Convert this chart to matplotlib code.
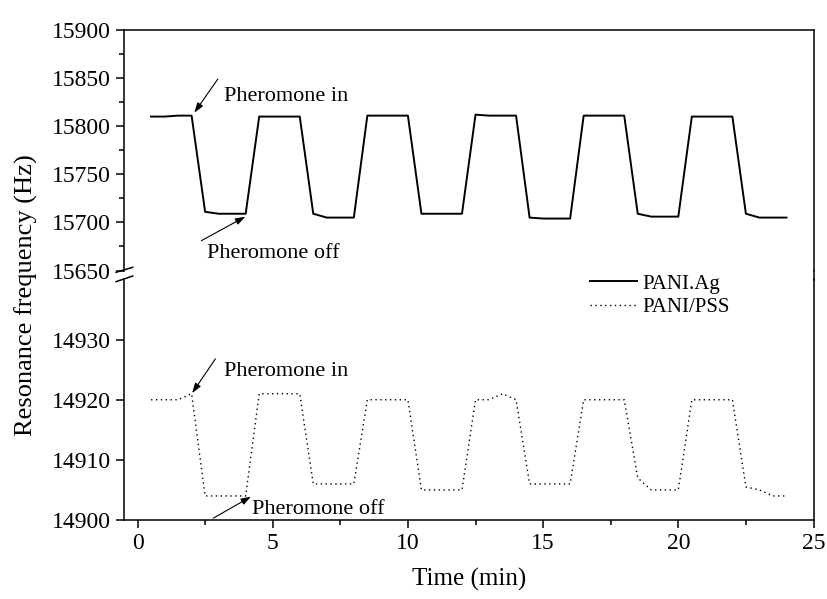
import matplotlib
matplotlib.use('Agg')
import matplotlib.pyplot as plt
from matplotlib.lines import Line2D
from matplotlib.ticker import MultipleLocator

plt.rcParams['font.family'] = ['Liberation Serif', 'DejaVu Serif']

# sampling times (min), one reading every 30 s
time = [0.5, 1.0, 1.5, 2.0, 2.5, 3.0, 3.5, 4.0, 4.5, 5.0, 5.5, 6.0,
        6.5, 7.0, 7.5, 8.0, 8.5, 9.0, 9.5, 10.0, 10.5, 11.0, 11.5, 12.0,
        12.5, 13.0, 13.5, 14.0, 14.5, 15.0, 15.5, 16.0, 16.5, 17.0, 17.5, 18.0,
        18.5, 19.0, 19.5, 20.0, 20.5, 21.0, 21.5, 22.0, 22.5, 23.0, 23.5, 24.0]

# resonance frequency (Hz) of the PANI.Ag sensor
pani_ag = [15810, 15810, 15811, 15811, 15711, 15709, 15709, 15709, 15810, 15810, 15810, 15810,
           15709, 15705, 15705, 15705, 15811, 15811, 15811, 15811, 15709, 15709, 15709, 15709,
           15812, 15811, 15811, 15811, 15705, 15704, 15704, 15704, 15811, 15811, 15811, 15811,
           15709, 15706, 15706, 15706, 15810, 15810, 15810, 15810, 15709, 15705, 15705, 15705]

# resonance frequency (Hz) of the PANI/PSS sensor
pani_pss = [14920, 14920, 14920, 14921, 14904, 14904, 14904, 14904, 14921, 14921, 14921, 14921,
            14906, 14906, 14906, 14906, 14920, 14920, 14920, 14920, 14905, 14905, 14905, 14905,
            14920, 14920, 14921, 14920, 14906, 14906, 14906, 14906, 14920, 14920, 14920, 14920,
            14907, 14905, 14905, 14905, 14920, 14920, 14920, 14920, 14905.5, 14905, 14904, 14904]

top_ticks = [15650, 15700, 15750, 15800, 15850, 15900]
bottom_ticks = [14900, 14910, 14920, 14930]
time_ticks = [0, 5, 10, 15, 20, 25]

W, H = 827, 599
fig = plt.figure(figsize=(W / 100, H / 100), dpi=100)


def box(left, top, right, bottom):
    # pixel box -> figure fraction rectangle
    return [left / W, 1 - bottom / H, (right - left) / W, (bottom - top) / H]


x_left, x_right = 124, 813.5
ax_top = fig.add_axes(box(x_left, 30, x_right, 270.5))
ax_bot = fig.add_axes(box(x_left, 279.5, x_right, 520))

lw_axis = 1.1
for ax in (ax_top, ax_bot):
    for s in ax.spines.values():
        s.set_linewidth(lw_axis)
    ax.set_xlim(-0.5, 25)
    ax.tick_params(axis='both', which='major', direction='out', length=6,
                   width=lw_axis, labelsize=17, pad=3.5)
    ax.tick_params(axis='both', which='minor', direction='out', length=3.5,
                   width=lw_axis)
    ax.tick_params(axis='y', right=False, which='both')
    ax.tick_params(axis='x', top=False, which='both')

# upper part: PANI.Ag
ax_top.plot(time, pani_ag, color='black', lw=1.4, label='PANI.Ag')
ax_top.set_ylim(15650, 15900)
ax_top.set_yticks(top_ticks)
ax_top.yaxis.set_minor_locator(MultipleLocator(25))
ax_top.spines['bottom'].set_visible(False)
ax_top.tick_params(axis='x', which='both', bottom=False, labelbottom=False)

# lower part: PANI/PSS
ax_bot.plot(time, pani_pss, color='black', lw=1.0, linestyle=(0, (1, 2.5)), label='PANI/PSS')
ax_bot.set_ylim(14900, 14940)
ax_bot.set_yticks(bottom_ticks)
ax_bot.set_xticks(time_ticks)
ax_bot.xaxis.set_minor_locator(MultipleLocator(2.5))
ax_bot.spines['top'].set_visible(False)

ax_bot.set_xlabel('Time (min)', fontsize=18, labelpad=10)
fig.text(26 / W, 1 - 295 / H, 'Resonance frequency (Hz)', rotation=90,
         fontsize=19, ha='center', va='center')

# legend with both series
handles = [Line2D([], [], color='black', lw=1.4),
           Line2D([], [], color='black', lw=1.0, linestyle=(0, (1, 2.5)))]
fig.legend(handles, ['PANI.Ag', 'PANI/PSS'], loc='upper left',
           bbox_to_anchor=(590 / W, 1 - 274 / H), frameon=False, fontsize=15,
           handlelength=2.25, handletextpad=0.25, labelspacing=0.2,
           borderpad=0, borderaxespad=0)

# axis break: join the right spine, slashes on the left spine
fig.add_artist(Line2D([x_right / W] * 2, [1 - 270.5 / H, 1 - 279.5 / H],
                      color='black', lw=lw_axis))
for y0, y1 in [(272.3, 267.3), (281.7, 276.0)]:
    fig.add_artist(Line2D([116 / W, 132.7 / W], [1 - y0 / H, 1 - y1 / H],
                          color='black', lw=lw_axis))

arrow = dict(arrowstyle='-|>,head_length=0.6,head_width=0.2', color='black',
             lw=0.8, shrinkA=0, shrinkB=0)

# annotations
ax_top.annotate('', xy=(2.1, 15814), xytext=(2.97, 15849), arrowprops=arrow)
ax_top.text(3.19, 15831, 'Pheromone in', fontsize=16, va='center')
ax_top.annotate('', xy=(3.99, 15706), xytext=(2.36, 15681), arrowprops=arrow)
ax_top.text(2.57, 15668, 'Pheromone off', fontsize=16, va='center')

ax_bot.annotate('', xy=(2.02, 14921.1), xytext=(2.88, 14926.8), arrowprops=arrow)
ax_bot.text(3.21, 14924.7, 'Pheromone in', fontsize=16, va='center')
ax_bot.annotate('', xy=(4.2, 14903.9), xytext=(2.8, 14900.3), arrowprops=arrow,
                annotation_clip=False)
ax_bot.text(4.24, 14901.8, 'Pheromone off', fontsize=16, va='center')

fig.savefig('out.png', dpi=100)
